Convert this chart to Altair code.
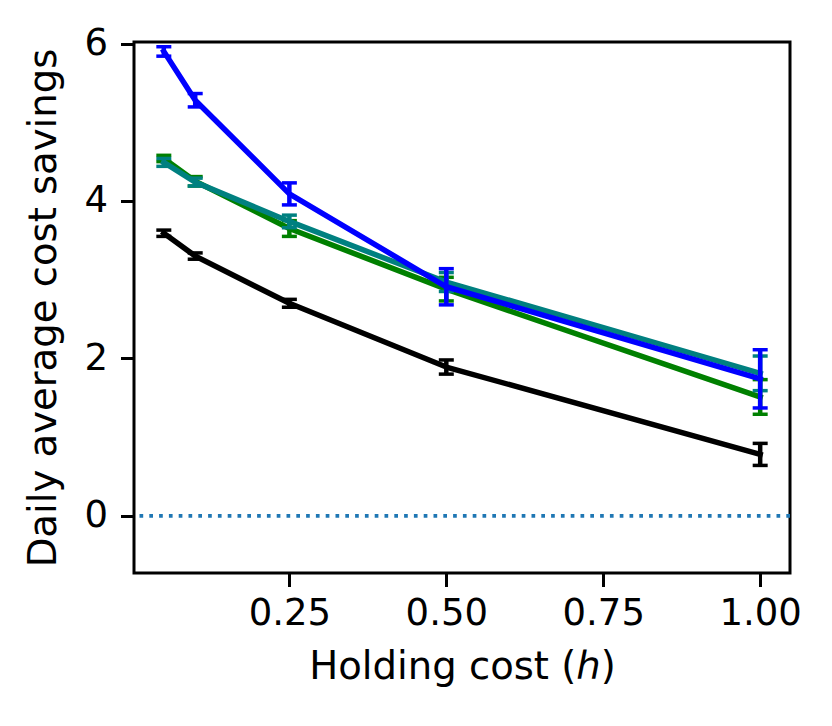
import altair as alt
import pandas as pd

# ---- data ----
h = [0.05, 0.1, 0.25, 0.5, 1.0]

black_mean = [3.59, 3.30, 2.70, 1.89, 0.78]
black_err = [0.04, 0.04, 0.05, 0.09, 0.14]

green_mean = [4.54, 4.25, 3.65, 2.88, 1.51]
green_err = [0.04, 0.06, 0.10, 0.15, 0.22]

teal_mean = [4.49, 4.24, 3.74, 2.97, 1.81]
teal_err = [0.05, 0.05, 0.08, 0.12, 0.22]

blue_mean = [5.90, 5.28, 4.09, 2.91, 1.74]
blue_err = [0.06, 0.085, 0.14, 0.23, 0.37]

series = [
    ("black", "#000000", black_mean, black_err),
    ("green", "#008000", green_mean, green_err),
    ("teal", "#008080", teal_mean, teal_err),
    ("blue", "#0000ff", blue_mean, blue_err),
]

FONT = "DejaVu Sans"
FS = 37
TFS = 38.6

xscale = alt.Scale(domain=[0.0025, 1.0475], nice=False, zero=False)
yscale = alt.Scale(domain=[-0.727, 6.02], nice=False, zero=False)

xaxis = alt.Axis(values=[0.25, 0.5, 0.75, 1.0], format=".2f", title="Holding cost (ℎ)",
                 grid=False, domain=False, tickSize=13.5, tickWidth=3, tickColor="black",
                 labelPadding=9, labelFontSize=FS, labelFont=FONT, labelColor="black",
                 titleFontSize=TFS, titleFont=FONT, titleFontWeight="normal", titleColor="black",
                 titlePadding=17, labelFlush=False)
yaxis = alt.Axis(values=[0, 2, 4, 6], format="d", title="Daily average cost savings",
                 grid=False, domain=False, tickSize=13.5, tickWidth=3, tickColor="black",
                 labelPadding=13, labelFontSize=FS, labelFont=FONT, labelColor="black",
                 titleFontSize=TFS, titleFont=FONT, titleFontWeight="normal", titleColor="black",
                 titlePadding=20, labelFlush=False)

zero_df = pd.DataFrame({"y": [0]})
zero_line = alt.Chart(zero_df).mark_rule(color="#1f77b4", strokeWidth=3.7,
                                         strokeDash=[3.7, 6.1]).encode(
    y=alt.Y("y:Q", scale=yscale, axis=yaxis)
)

layers = [zero_line]
for name, color, mean, err in series:
    df = pd.DataFrame({"h": h, "m": mean, "e": err})
    df["lo"] = df["m"] - df["e"]
    df["hi"] = df["m"] + df["e"]
    base = alt.Chart(df)
    line = base.mark_line(color=color, strokeWidth=5.5, strokeJoin="round", strokeCap="square").encode(
        x=alt.X("h:Q", scale=xscale, axis=xaxis),
        y=alt.Y("m:Q", scale=yscale, axis=yaxis),
    )
    bars = base.mark_rule(color=color, strokeWidth=4.5).encode(
        x=alt.X("h:Q", scale=xscale),
        y=alt.Y("lo:Q", scale=yscale),
        y2="hi:Q",
    )
    cap_lo = base.mark_tick(color=color, orient="horizontal", size=15, thickness=3.5, opacity=1).encode(
        x=alt.X("h:Q", scale=xscale),
        y=alt.Y("lo:Q", scale=yscale),
    )
    cap_hi = base.mark_tick(color=color, orient="horizontal", size=15, thickness=3.5, opacity=1).encode(
        x=alt.X("h:Q", scale=xscale),
        y=alt.Y("hi:Q", scale=yscale),
    )
    layers += [line, bars, cap_lo, cap_hi]

chart = alt.layer(*layers).properties(
    width=656, height=531,
    autosize=alt.AutoSizeParams(type="none"),
    padding={"left": 126, "top": 34, "right": 30, "bottom": 140},
    background="white",
).configure_view(stroke="black", strokeWidth=3).configure_axis(
    labelFont=FONT, titleFont=FONT
)

chart.save("out.html", embed_options={"renderer": "svg", "actions": False})
